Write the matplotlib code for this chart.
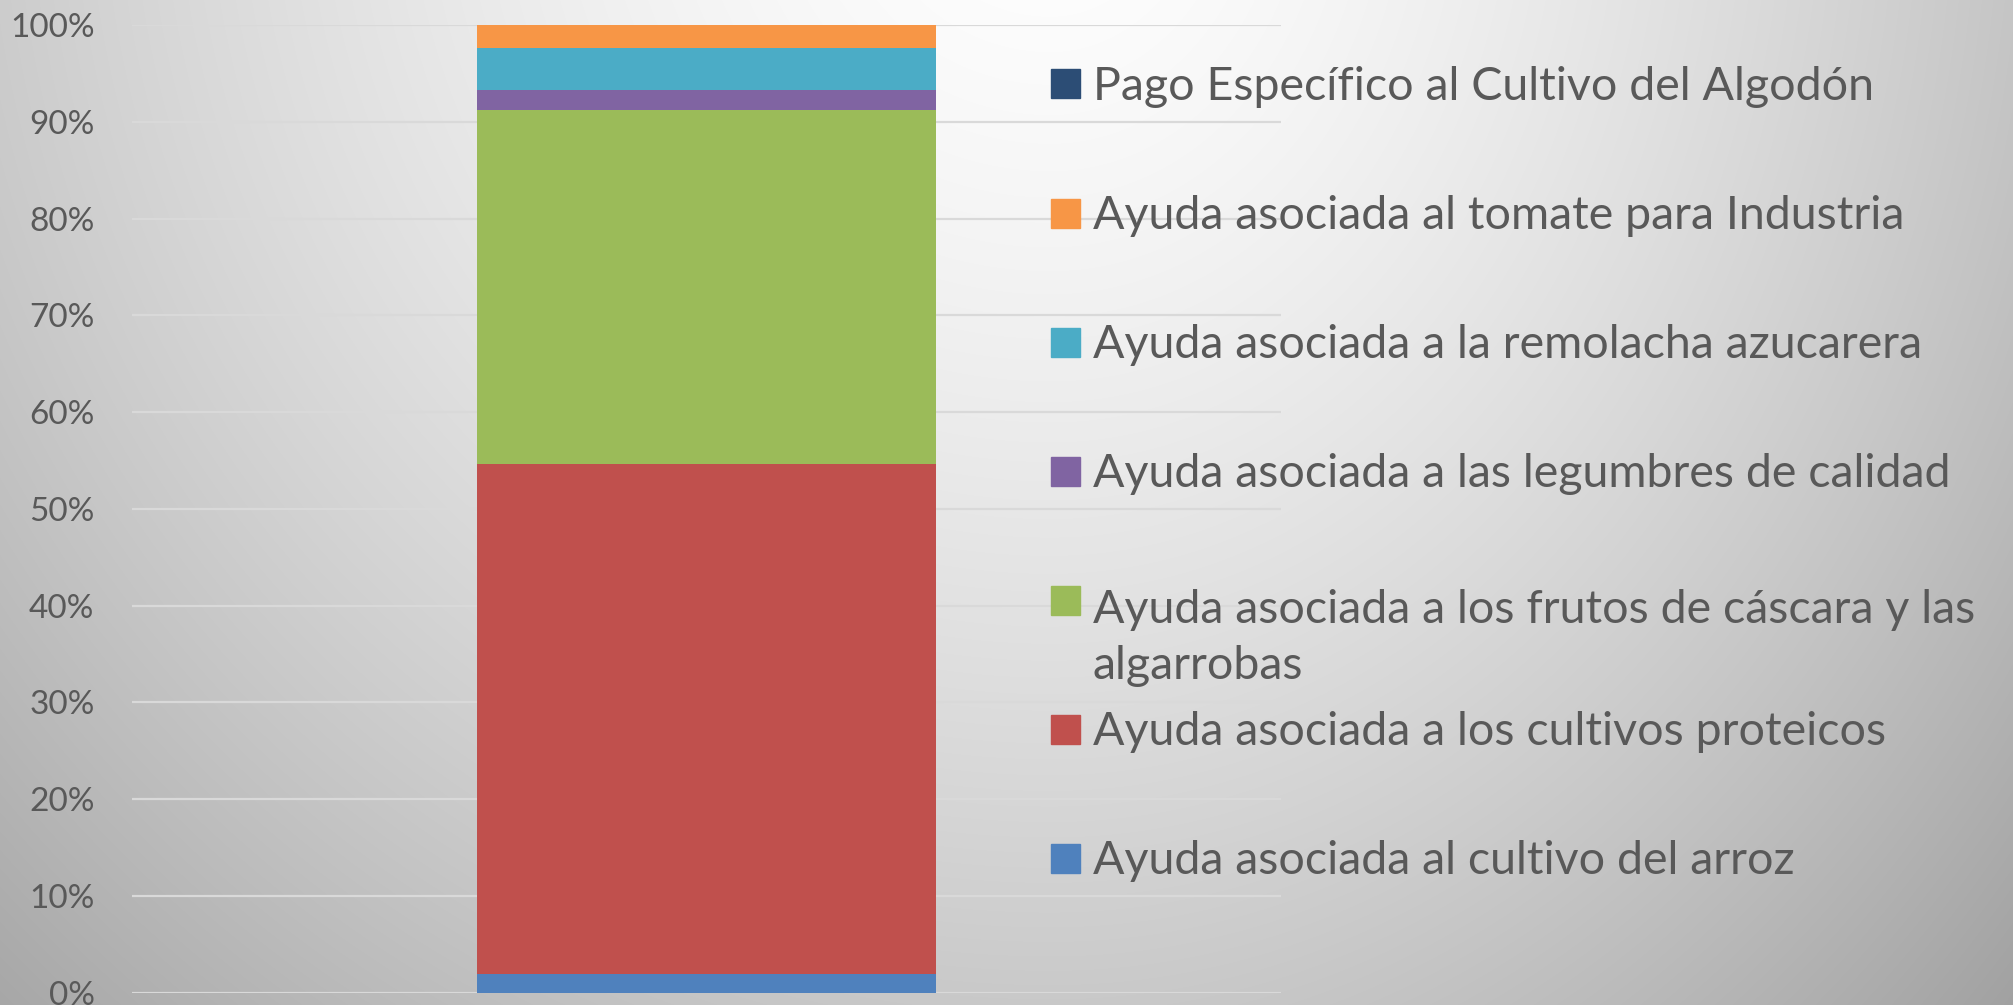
import matplotlib
matplotlib.use("Agg")
import matplotlib.pyplot as plt
import numpy as np
from matplotlib.patches import Rectangle

plt.rcParams.update({
    "font.family": ["Lato", "DejaVu Sans"],
    "text.color": "#595959",
})

# Series (bottom to top of the stacked bar), shares in percent
series = [
    "Ayuda asociada al cultivo del arroz",
    "Ayuda asociada a los cultivos proteicos",
    "Ayuda asociada a los frutos de cáscara y las\nalgarrobas",
    "Ayuda asociada a las legumbres de calidad",
    "Ayuda asociada a la remolacha azucarera",
    "Ayuda asociada al tomate para Industria",
    "Pago Específico al Cultivo del Algodón",
]
shares = [1.96, 52.65, 36.57, 2.10, 4.34, 2.35, 0.0]
colors = ["#4f81bd", "#c0504d", "#9bbb59", "#8064a2", "#4bacc6", "#f79646", "#2c4d75"]
yticks = np.arange(0, 101, 10)

W, H = 2013, 1005
fig = plt.figure(figsize=(W / 100, H / 100), dpi=100)

# background gradient
bg = fig.add_axes([0, 0, 1, 1], zorder=-10)
xx, yy = np.meshgrid(np.arange(W), np.arange(H))
dx = (xx - 1050) / np.where(xx < 1050, 1250, 1050)
dy = (yy + 150) / 1300
r = np.sqrt(dx ** 2 + dy ** 2)
g = np.clip(255 - 65 * r ** 1.5, 0, 255) / 255
bg.imshow(np.dstack([g, g, g]), aspect="auto", extent=[0, 1, 0, 1])
bg.axis("off")

ax = fig.add_axes([132 / W, 1 - 992.7 / H, 1149 / W, (992.7 - 25) / H])
ax.set_facecolor("none")

vals = np.array(shares) / np.sum(shares) * 100
bottom = 0
for v, c in zip(vals, colors):
    ax.bar(0, v, width=0.4, bottom=bottom, color=c, zorder=2)
    bottom += v

ax.set_xlim(-0.5, 0.5)
ax.set_ylim(0, 100)
ax.set_yticks(yticks)
ax.set_yticklabels([f"{t}%" for t in yticks], fontsize=24, color="#595959")
ax.tick_params(axis="y", length=0, pad=27)
ax.set_xticks([])
ax.grid(axis="y", color="#d9d9d9", linewidth=1.6, zorder=0)
for s in ax.spines.values():
    s.set_visible(False)

# legend, top series first
for i, (lab, c) in enumerate(zip(series[::-1], colors[::-1])):
    yc = 83.5 + 129.1 * i
    fig.add_artist(Rectangle((1051 / W, 1 - (yc + 15) / H), 29 / W, 29 / H,
                             transform=fig.transFigure, color=c))
    nl = lab.count("\n")
    fig.text(1093 / W, 1 - (yc + 16 + 63 * nl) / H, lab, fontsize=33.5, va="baseline",
             ha="left", color="#595959", linespacing=1.4)

plt.savefig("out.png", dpi=100)
